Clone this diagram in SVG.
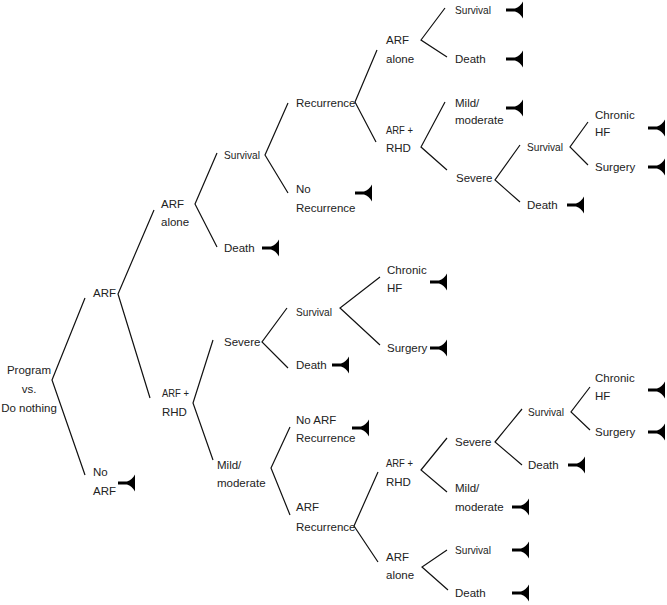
<svg xmlns="http://www.w3.org/2000/svg" xmlns:xlink="http://www.w3.org/1999/xlink" width="667" height="605" viewBox="0 0 667 605">
<defs>
<style>
text{font-family:"Liberation Sans",Arial,sans-serif;font-size:11.5px;fill:#222}
.c{text-anchor:middle}
.e polyline{fill:none;stroke:#111;stroke-width:1.2}
</style>
<path id="t" d="M0,-1.5 H9 Q14,-3 17,-8.5 V8.5 Q14,3 9,1.5 H0 Z" fill="#000"/>
</defs>
<rect width="667" height="605" fill="#fff"/>
<g class="e" id="connectors">
<polyline points="85,298 52,380 85,475"/>
<polyline points="154,210 118,294 150,398"/>
<polyline points="217,153 195,204 217,247"/>
<polyline points="288,103 265,155 288,193"/>
<polyline points="377,50 355,102 376,142"/>
<polyline points="445,8 421,40 447,57"/>
<polyline points="445,102 421,147 447,170"/>
<polyline points="520,145 495,180 520,202"/>
<polyline points="588,122 570,147 588,165"/>
<polyline points="213,340 193,403 213,460"/>
<polyline points="287,308 262,342 288,368"/>
<polyline points="380,277 340,308 380,345"/>
<polyline points="290,427 271,468 290,515"/>
<polyline points="378,472 354,526 378,562"/>
<polyline points="447,438 421,470 447,492"/>
<polyline points="447,550 422,567 448,590"/>
<polyline points="522,409 495,442 522,465"/>
<polyline points="590,387 571,412 590,430"/>
</g>
<g id="root"><text class="c" x="29" y="374">Program</text><text class="c" x="29" y="393">vs.</text><text class="c" x="29" y="412">Do nothing</text></g>
<g id="arf"><text x="93" y="297">ARF</text></g>
<g id="noarf"><text x="93" y="476">No</text><text x="93" y="495">ARF</text><use xlink:href="#t" x="118" y="483"/></g>
<g id="arfalone1"><text x="161" y="208">ARF</text><text x="161" y="226">alone</text></g>
<g id="arfrhd1"><text x="162" y="397" textLength="27" lengthAdjust="spacingAndGlyphs">ARF +</text><text x="162" y="416">RHD</text></g>
<g id="surv1"><text x="224" y="159" textLength="36" lengthAdjust="spacingAndGlyphs">Survival</text></g>
<g id="death1"><text x="224" y="252">Death</text><use xlink:href="#t" x="262" y="248"/></g>
<g id="recur"><text x="296" y="107">Recurrence</text></g>
<g id="norecur"><text x="296" y="193">No</text><text x="296" y="212">Recurrence</text><use xlink:href="#t" x="355" y="193"/></g>
<g id="arfalone2"><text x="386" y="44">ARF</text><text x="386" y="63">alone</text></g>
<g id="arfrhd2"><text x="386" y="134" textLength="27" lengthAdjust="spacingAndGlyphs">ARF +</text><text x="386" y="152">RHD</text></g>
<g id="surv2"><text x="455" y="14" textLength="36" lengthAdjust="spacingAndGlyphs">Survival</text><use xlink:href="#t" x="506" y="10"/></g>
<g id="death2"><text x="455" y="63">Death</text><use xlink:href="#t" x="506" y="59"/></g>
<g id="mild1"><text x="455" y="107">Mild/</text><text x="455" y="124">moderate</text><use xlink:href="#t" x="506" y="108"/></g>
<g id="severe1"><text x="456" y="182">Severe</text></g>
<g id="surv3"><text x="527" y="151" textLength="36" lengthAdjust="spacingAndGlyphs">Survival</text></g>
<g id="death3"><text x="527" y="209">Death</text><use xlink:href="#t" x="567" y="205"/></g>
<g id="chf1"><text x="595" y="119">Chronic</text><text x="595" y="136">HF</text><use xlink:href="#t" x="648" y="128"/></g>
<g id="surg1"><text x="595" y="171">Surgery</text><use xlink:href="#t" x="648" y="167"/></g>
<g id="severe2"><text x="224" y="346">Severe</text></g>
<g id="mild2"><text x="217" y="469">Mild/</text><text x="217" y="487">moderate</text></g>
<g id="surv4"><text x="296" y="316" textLength="36" lengthAdjust="spacingAndGlyphs">Survival</text></g>
<g id="death4"><text x="296" y="369">Death</text><use xlink:href="#t" x="332" y="365"/></g>
<g id="chf2"><text x="387" y="274">Chronic</text><text x="387" y="292">HF</text><use xlink:href="#t" x="430" y="282"/></g>
<g id="surg2"><text x="387" y="352">Surgery</text><use xlink:href="#t" x="430" y="348"/></g>
<g id="noarfrec"><text x="296" y="424">No ARF</text><text x="296" y="442">Recurrence</text><use xlink:href="#t" x="352" y="428"/></g>
<g id="arfrec"><text x="296" y="511">ARF</text><text x="296" y="531">Recurrence</text></g>
<g id="arfrhd3"><text x="386" y="467" textLength="27" lengthAdjust="spacingAndGlyphs">ARF +</text><text x="386" y="486">RHD</text></g>
<g id="arfalone3"><text x="386" y="561">ARF</text><text x="386" y="579">alone</text></g>
<g id="severe3"><text x="455" y="446">Severe</text></g>
<g id="mild3"><text x="455" y="492">Mild/</text><text x="455" y="511">moderate</text><use xlink:href="#t" x="512" y="507"/></g>
<g id="surv5"><text x="455" y="554" textLength="36" lengthAdjust="spacingAndGlyphs">Survival</text><use xlink:href="#t" x="512" y="550"/></g>
<g id="death5"><text x="455" y="597">Death</text><use xlink:href="#t" x="512" y="593"/></g>
<g id="surv6"><text x="528" y="416" textLength="36" lengthAdjust="spacingAndGlyphs">Survival</text></g>
<g id="death6"><text x="528" y="469">Death</text><use xlink:href="#t" x="568" y="465"/></g>
<g id="chf3"><text x="595" y="382">Chronic</text><text x="595" y="400">HF</text><use xlink:href="#t" x="648" y="390"/></g>
<g id="surg3"><text x="595" y="436">Surgery</text><use xlink:href="#t" x="648" y="432"/></g>
</svg>
